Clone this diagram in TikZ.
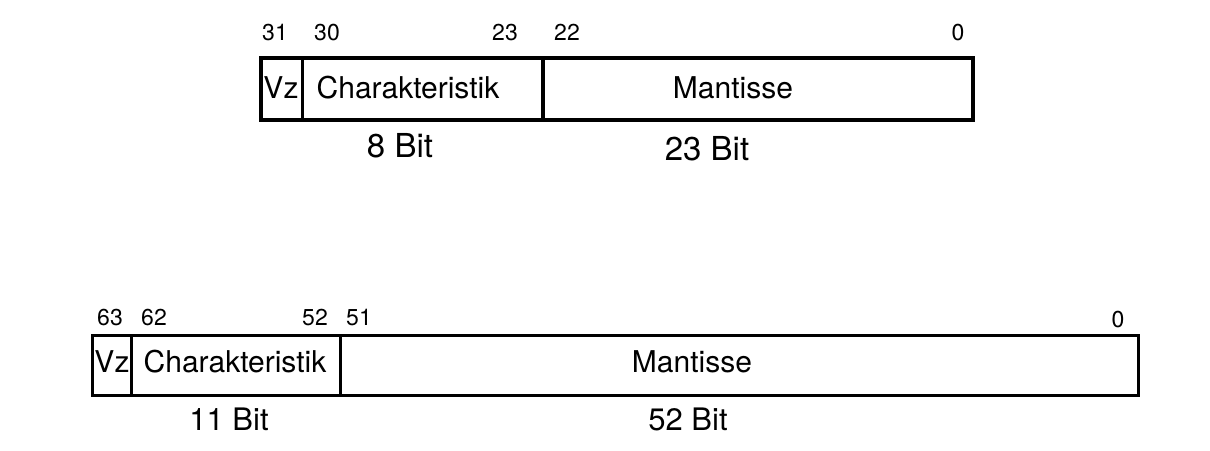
\documentclass[tikz,border=0pt]{standalone}
\usepackage{fontspec}
\setmainfont{TeX Gyre Heros}
\begin{document}
\begin{tikzpicture}[x=1pt,y=-1pt,
  fieldA/.style={draw=black, line width=3.8pt, inner sep=0pt, outer sep=0pt, anchor=north west},
  fieldB/.style={draw=black, line width=3.0pt, inner sep=0pt, outer sep=0pt, anchor=north west},
  lbl/.style={anchor=base, inner sep=0pt, font=\fontsize{30}{36}\selectfont},
  num/.style={anchor=base, inner sep=0pt, font=\fontsize{23}{27}\selectfont},
  bitsA/.style={anchor=base, inner sep=0pt, font=\fontsize{33}{40}\selectfont},
  bitsB/.style={anchor=base, inner sep=0pt, font=\fontsize{31}{37}\selectfont}]
\useasboundingbox (0,0) rectangle (1210,450);

% ---- single precision (32 bit) ----
\node[fieldA, minimum width=41.5pt, minimum height=62pt] (vzA) at (261,58) {};
\node[fieldA, minimum width=240.5pt, minimum height=62pt] (chA) at (302.5,58) {};
\node[fieldA, minimum width=430pt, minimum height=62pt] (maA) at (543,58) {};

\node[num] (n31) at (275,40) {31};
\node[num] (n30) at (327,40) {30};
\node[num] (n23) at (505,40) {23};
\node[num] (n22) at (567,40) {22};
\node[num] (n0A) at (958,40) {0};

\node[lbl] (tvzA) at (281,98) {Vz};
\node[lbl] (tchA) at (408,98) {Charakteristik};
\node[lbl] (tmaA) at (733,98) {Mantisse};

\node[bitsA] (b8) at (400,157) {8 Bit};
\node[bitsA] (b23) at (707,160) {23 Bit};

% ---- double precision (64 bit) ----
\node[fieldB, minimum width=39.7pt, minimum height=60pt] (vzB) at (92,335) {};
\node[fieldB, minimum width=208.3pt, minimum height=60pt] (chB) at (131.7,335) {};
\node[fieldB, minimum width=798.7pt, minimum height=60pt] (maB) at (340,335) {};

\node[num] (n63) at (110,325) {63};
\node[num] (n62) at (154,325) {62};
\node[num] (n52) at (315,325) {52};
\node[num] (n51) at (359,325) {51};
\node[num] (n0B) at (1118,327) {0};

\node[lbl] (tvzB) at (112,372) {Vz};
\node[lbl] (tchB) at (235,372) {Charakteristik};
\node[lbl] (tmaB) at (692,372) {Mantisse};

\node[bitsB] (b11) at (229,430) {11 Bit};
\node[bitsB] (b52) at (688,430) {52 Bit};
\end{tikzpicture}
\end{document}
